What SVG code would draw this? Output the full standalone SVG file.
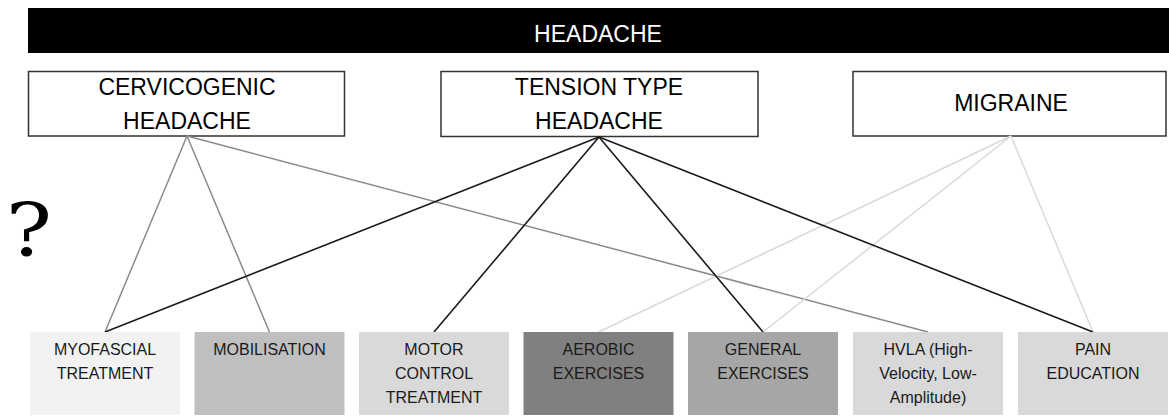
<svg xmlns="http://www.w3.org/2000/svg" width="1169" height="417" viewBox="0 0 1169 417">
<style>
.t{font-family:"Liberation Sans",Arial,sans-serif;text-anchor:middle}
.big{font-size:23px}
.sm{font-size:16px;fill:#1a1a1a}
.cat{fill:#fff;stroke:#333;stroke-width:1.5}
.gray{stroke:#8a8a8a;stroke-width:1.5;fill:none}
.blk{stroke:#1a1a1a;stroke-width:1.6;fill:none}
.lt{stroke:#d9d9d9;stroke-width:1.5;fill:none}
</style>
<rect width="1169" height="417" fill="#fff"/>
<g id="headache">
<rect x="28" y="8" width="1141" height="45" fill="#000"/>
<text class="t big" x="598" y="42" fill="#fff">HEADACHE</text>
</g>
<g id="cervicogenic">
<rect class="cat" x="28.5" y="71.5" width="316" height="64.5"/>
<text class="t big" x="187" y="95">CERVICOGENIC</text>
<text class="t big" x="187" y="129">HEADACHE</text>
</g>
<g id="tension">
<rect class="cat" x="441" y="71.5" width="317" height="65"/>
<text class="t big" x="599" y="95">TENSION TYPE</text>
<text class="t big" x="599" y="129">HEADACHE</text>
</g>
<g id="migraine">
<rect class="cat" x="853" y="71.5" width="313" height="64.5"/>
<text class="t big" x="1011" y="111">MIGRAINE</text>
</g>
<g id="question">
<text transform="translate(29 256) scale(1.2 1)" x="0" y="0" font-family="'DejaVu Serif',serif" font-size="72" text-anchor="middle">?</text>
</g>
<g id="connectors">
<line class="gray" x1="187" y1="136" x2="105" y2="332"/>
<line class="gray" x1="187" y1="136" x2="269.5" y2="332"/>
<line class="gray" x1="187" y1="136" x2="928" y2="332"/>
<line class="lt" x1="1011" y1="136" x2="598.5" y2="332"/>
<line class="lt" x1="1011" y1="136" x2="763" y2="332"/>
<line class="lt" x1="1011" y1="136" x2="1093" y2="332"/>
<line class="blk" x1="599" y1="137" x2="105" y2="332"/>
<line class="blk" x1="599" y1="137" x2="434" y2="332"/>
<line class="blk" x1="599" y1="137" x2="763" y2="332"/>
<line class="blk" x1="599" y1="137" x2="1093" y2="332"/>
</g>
<g id="myofascial">
<rect x="30" y="332" width="150" height="83" fill="#f2f2f2"/>
<text class="t sm" x="105" y="355">MYOFASCIAL</text>
<text class="t sm" x="105" y="379">TREATMENT</text>
</g>
<g id="mobilisation">
<rect x="194.5" y="332" width="150" height="83" fill="#bfbfbf"/>
<text class="t sm" x="269.5" y="355">MOBILISATION</text>
</g>
<g id="motor">
<rect x="359" y="332" width="150" height="83" fill="#d9d9d9"/>
<text class="t sm" x="434" y="355">MOTOR</text>
<text class="t sm" x="434" y="379">CONTROL</text>
<text class="t sm" x="434" y="403">TREATMENT</text>
</g>
<g id="aerobic">
<rect x="523.5" y="332" width="150" height="83" fill="#808080"/>
<text class="t sm" x="598.5" y="355">AEROBIC</text>
<text class="t sm" x="598.5" y="379">EXERCISES</text>
</g>
<g id="general">
<rect x="688" y="332" width="150" height="83" fill="#a6a6a6"/>
<text class="t sm" x="763" y="355">GENERAL</text>
<text class="t sm" x="763" y="379">EXERCISES</text>
</g>
<g id="hvla">
<rect x="853" y="332" width="150" height="83" fill="#d9d9d9"/>
<text class="t sm" x="928" y="355">HVLA (High-</text>
<text class="t sm" x="928" y="379">Velocity, Low-</text>
<text class="t sm" x="928" y="403">Amplitude)</text>
</g>
<g id="pain">
<rect x="1018" y="332" width="150" height="83" fill="#d9d9d9"/>
<text class="t sm" x="1093" y="355">PAIN</text>
<text class="t sm" x="1093" y="379">EDUCATION</text>
</g>
</svg>
